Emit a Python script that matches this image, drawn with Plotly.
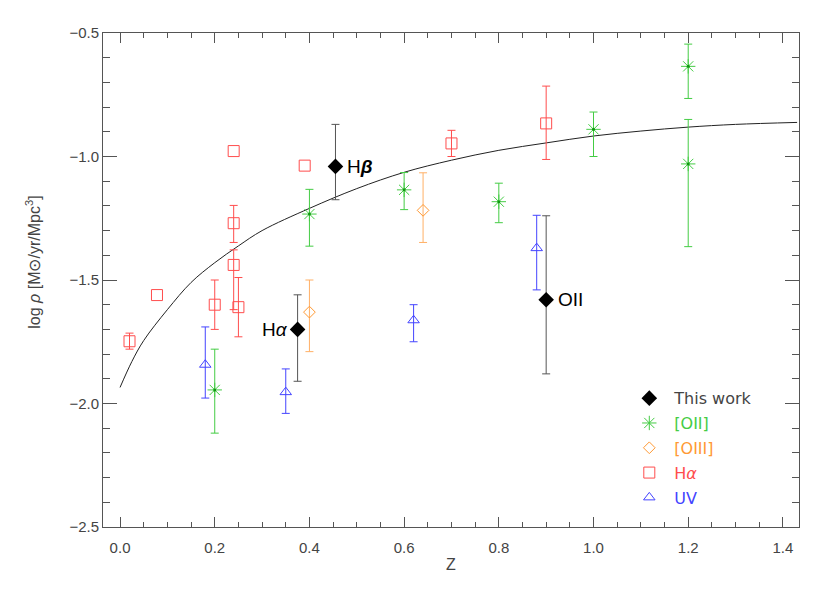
import plotly.graph_objects as go

# ---------------- data ----------------
# This work (black diamonds)
tw_label = ["Hβ", "Hα", "OII"]
tw_z = [0.455, 0.375, 0.90]
tw_y = [-1.04, -1.70, -1.58]
tw_ep = [0.17, 0.14, 0.34]
tw_em = [0.135, 0.21, 0.30]

# [OII] (green asterisks)
oii_z = [0.20, 0.40, 0.60, 0.80, 1.00, 1.20, 1.20]
oii_y = [-1.945, -1.233, -1.135, -1.183, -0.890, -0.635, -1.030]
oii_ep = [0.165, 0.10, 0.07, 0.075, 0.07, 0.09, 0.18]
oii_em = [0.175, 0.13, 0.08, 0.085, 0.11, 0.13, 0.335]

# [OIII] (orange diamonds)
oiii_z = [0.40, 0.64]
oiii_y = [-1.630, -1.218]
oiii_ep = [0.13, 0.152]
oiii_em = [0.16, 0.13]

# Halpha (red squares); None = no error bar drawn
ha_z = [0.02, 0.078, 0.20, 0.24, 0.24, 0.24, 0.25, 0.39, 0.70, 0.90]
ha_y = [-1.748, -1.561, -1.600, -0.978, -1.270, -1.439, -1.610, -1.037, -0.947, -0.866]
ha_ep = [0.033, None, 0.10, None, 0.072, 0.061, 0.12, None, 0.053, 0.151]
ha_em = [0.032, None, 0.10, None, 0.078, 0.181, 0.12, None, 0.053, 0.146]

# UV (blue triangles)
uv_z = [0.18, 0.35, 0.62, 0.88]
uv_y = [-1.843, -1.954, -1.663, -1.371]
uv_ep = [0.153, 0.094, 0.063, 0.133]
uv_em = [0.135, 0.086, 0.087, 0.169]

# model curve
curve_z = [0.0, 0.025, 0.05, 0.10, 0.15, 0.20, 0.25, 0.30, 0.40, 0.50, 0.60,
           0.70, 0.80, 0.90, 1.00, 1.10, 1.20, 1.30, 1.43]
curve_y = [-1.935, -1.83, -1.745, -1.62, -1.51, -1.43, -1.362, -1.30, -1.21,
           -1.13, -1.064, -1.015, -0.975, -0.945, -0.917, -0.897, -0.881,
           -0.870, -0.862]

x_ticks = [0.0, 0.2, 0.4, 0.6, 0.8, 1.0, 1.2, 1.4]
y_ticks = [-2.5, -2.0, -1.5, -1.0, -0.5]

# ---------------- styles ----------------
GREEN = "#44cc44"
ORANGE = "#ff9933"
RED = "#ff4d4d"
BLUE = "#4444ff"
AX = "#555555"
FONT = "Liberation Sans"
LFONT = "DejaVu Sans"
TXT = "#444444"

def err(p, m, color):
    return dict(type="data", symmetric=False, array=p, arrayminus=m,
                color=color, thickness=1, width=4)

fig = go.Figure()

fig.add_trace(go.Scatter(x=curve_z, y=curve_y, mode="lines", line_shape="spline",
                         line=dict(color="#222222", width=1), showlegend=False,
                         hoverinfo="skip"))

fig.add_trace(go.Scatter(
    x=tw_z, y=tw_y, mode="markers", name="This work", legendgroup="a",
    marker=dict(symbol="diamond", size=12, color="black"),
    error_y=err(tw_ep, tw_em, "#555555")))

fig.add_trace(go.Scatter(
    x=oii_z, y=oii_y, mode="markers", legendgroup="b",
    name=f"<span style='color:{GREEN}'>[OII]</span>",
    marker=dict(symbol="asterisk-open", size=12, color=GREEN,
                line=dict(color="#66dd66", width=1)),
    error_y=err(oii_ep, oii_em, GREEN)))
fig.add_trace(go.Scatter(
    x=oii_z, y=oii_y, mode="markers", showlegend=False, hoverinfo="skip",
    legendgroup="b",
    marker=dict(symbol="circle", size=3, color="#119911")))

fig.add_trace(go.Scatter(
    x=oiii_z, y=oiii_y, mode="markers", legendgroup="c",
    name=f"<span style='color:{ORANGE}'>[OIII]</span>",
    marker=dict(symbol="diamond-open", size=9, color=ORANGE,
                line=dict(color=ORANGE, width=1)),
    error_y=err(oiii_ep, oiii_em, "#ffb066")))

# Halpha: split points with / without error bars
ha_idx_e = [i for i, v in enumerate(ha_ep) if v is not None]
ha_idx_n = [i for i, v in enumerate(ha_ep) if v is None]
ha_marker = dict(symbol="square-open", size=11, color=RED,
                 line=dict(color=RED, width=1))
fig.add_trace(go.Scatter(
    x=[ha_z[i] for i in ha_idx_e], y=[ha_y[i] for i in ha_idx_e], mode="markers",
    name=f"<span style='color:{RED}'>H<i>α</i></span>", legendgroup="d",
    marker=ha_marker,
    error_y=err([ha_ep[i] for i in ha_idx_e], [ha_em[i] for i in ha_idx_e], RED)))
fig.add_trace(go.Scatter(
    x=[ha_z[i] for i in ha_idx_n], y=[ha_y[i] for i in ha_idx_n], mode="markers",
    showlegend=False, legendgroup="d", marker=ha_marker))

fig.add_trace(go.Scatter(
    x=uv_z, y=uv_y, mode="markers", legendgroup="e",
    name=f"<span style='color:{BLUE}'>UV</span>",
    marker=dict(symbol="triangle-up-open", size=10, color=BLUE,
                line=dict(color=BLUE, width=1)),
    error_y=err(uv_ep, uv_em, BLUE)))

# labels next to this work's points
label_text = ["H<b><i>β</i></b>", "H<i>α</i>", "OII"]
label_side = ["right", "left", "right"]
for t, zx, yy, side in zip(label_text, tw_z, tw_y, label_side):
    fig.add_annotation(x=zx, y=yy, text=t, showarrow=False,
                       xanchor="left" if side == "right" else "right",
                       xshift=10 if side == "right" else -8,
                       font=dict(family=FONT, size=19, color="black"))

# y-axis title (placed as rotated text, as in the reference)
fig.add_annotation(xref="paper", yref="paper", x=0, y=0.535, xshift=-70,
                   text="log <i>ρ</i> [M⊙/yr/Mpc<sup>3</sup>]", textangle=-90,
                   showarrow=False, xanchor="center", yanchor="middle",
                   font=dict(family=FONT, size=16, color=TXT))

axis_common = dict(showline=True, linecolor=AX, linewidth=1, mirror="ticks",
                   ticks="inside", tickcolor=AX, tickwidth=1, showgrid=False,
                   zeroline=False, automargin=False,
                   tickfont=dict(family=FONT, size=15, color=TXT))

fig.update_xaxes(range=[-0.036, 1.434], tickvals=x_ticks, tickformat=".1f",
                 ticklen=10, ticklabelstandoff=7,
                 minor=dict(ticks="inside", ticklen=5, dtick=0.05, tick0=0,
                            tickcolor=AX, showgrid=False),
                 title=dict(text="Z", font=dict(family=FONT, size=16, color=TXT),
                            standoff=3),
                 **axis_common)
fig.update_yaxes(range=[-2.5, -0.5], tickvals=y_ticks, tickformat=".1f",
                 ticklen=14,
                 minor=dict(ticks="inside", ticklen=7, dtick=0.1, tick0=-2.5,
                            tickcolor=AX, showgrid=False),
                 **axis_common)

# page body has an 8px margin: figure is 822x585 so the plot box lands where
# it is in the reference
fig.update_layout(
    width=822, height=585,
    margin=dict(l=95, r=31, t=25, b=66, autoexpand=False),
    paper_bgcolor="white", plot_bgcolor="white",
    legend=dict(x=0.749, y=0.295, xanchor="left", yanchor="top",
                bgcolor="rgba(0,0,0,0)", tracegroupgap=1, itemwidth=40,
                font=dict(family=LFONT, size=16, color=TXT)),
)

fig.write_html("out.html")
